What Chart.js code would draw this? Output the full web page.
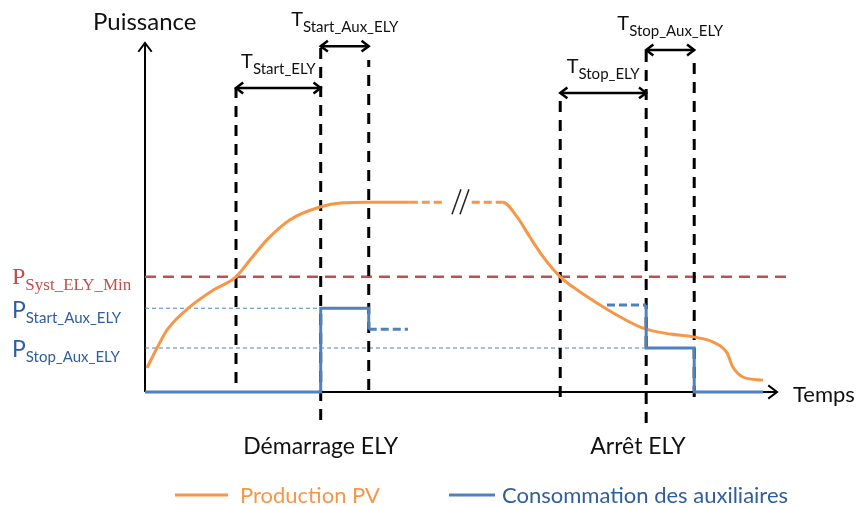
<!DOCTYPE html>
<html>
<head>
<meta charset="utf-8">
<script src="https://cdn.jsdelivr.net/npm/chart.js@4/dist/chart.umd.min.js"></script>
<style>
  html, body { margin: 0; padding: 0; background: #fff; }
  #wrap { width: 860px; height: 506px; position: relative; }
</style>
</head>
<body>
<div id="wrap"><canvas id="c"></canvas></div>
<script>
/* Schéma démarrage / arrêt ELY — temps et puissance en unités arbitraires (0-100) */
const prodT = [0.3, 1.9, 3.5, 7.1, 10.8, 14.4, 16.6, 19.3, 22.9, 27.7, 31.3, 35.1, 41.9, 47.4, 49.5, 51.7, 56.6, 58.9, 60.9, 63.0, 65.7, 68.4, 71.5, 75.2, 78.8, 83.1, 86.7, 89.9, 92.1, 93.0, 94.6, 97.8];
const prodP = [6.9, 12.6, 17.8, 24.4, 29.2, 33.0, 37.8, 43.6, 49.3, 53.0, 54.2, 54.4, 54.4, 54.4, null, 54.4, 54.4, 50.1, 44.4, 38.7, 33.0, 29.2, 25.5, 21.5, 18.3, 16.6, 15.8, 14.3, 11.2, 7.2, 4.3, 3.4];
const prodDashFrom = 41.9, prodDashTo = 56.6;   // raccord en pointillés autour de la coupure //
const breakAt = 50.0;

const auxT = [0, 27.8, 27.8, 35.4, 35.4, 41.6, 57.0, 73.1, 79.3, 79.3, 86.9, 86.9, 97.8];
const auxP = [0, 0, 24, 24, 18, 18, null, 24.9, 24.9, 12.6, 12.6, 0, 0];
const auxDashed = [[35.4, 41.6], [73.1, 79.3]];

const pSystMin = 33;
const pStartAux = 24;
const pStopAux = 12.6;
const levelEnd = [102.4, 27.8, 79.3];   // fin des traits horizontaux (Syst, Start, Stop)

const markT = [14.4, 27.8, 35.4, 65.7, 79.3, 86.9];
const markTop = [87.1, 100, 95.1, 85.7, 98, 94.3];
const markBottom = [2.6, -8, 0.6, -1.4, -8.9, -1.4];

const spanNames = ['Start_ELY', 'Start_Aux_ELY', 'Stop_ELY', 'Stop_Aux_ELY'];
const spanFrom = [14.4, 27.8, 65.7, 79.3];
const spanTo = [27.8, 35.4, 79.3, 86.9];
const spanAt = [87.1, 99.1, 85.7, 98];

const phaseLabels = ['Démarrage ELY', 'Arrêt ELY'];
const phaseAt = [27.8, 78.0];

const ORANGE = '#F79646', BLUE = '#4F81BD', RED = '#C0504D', TXTBLUE = '#2F5E9E';
const SANS = 'Lato, "Open Sans", sans-serif';

const pts = (xs, ys) => xs.map((x, i) => ({ x, y: ys[i] }));

const datasets = [
  {
    label: 'Consommation des auxiliaires',
    data: pts(auxT, auxP),
    borderColor: BLUE, borderWidth: 3, spanGaps: false, clip: false,
    segment: {
      borderDash: c => {
        if (c.p0.parsed.y !== c.p1.parsed.y) return undefined;
        const hit = auxDashed.some(r => c.p0.parsed.x >= r[0] && c.p1.parsed.x <= r[1]);
        return hit ? [8, 4] : undefined;
      }
    },
  },
  {
    label: 'Production PV',
    data: pts(prodT, prodP),
    borderColor: ORANGE, borderWidth: 3, spanGaps: false, clip: false,
    cubicInterpolationMode: 'monotone',
    segment: {
      borderDash: c => (c.p0.parsed.x >= prodDashFrom && c.p1.parsed.x <= prodDashTo) ? [8, 4] : undefined
    },
  },
];

markT.forEach((t, i) => datasets.push({
  label: 'm' + i,
  data: [{ x: t, y: markBottom[i] }, { x: t, y: markTop[i] }],
  borderColor: '#000', borderWidth: 3, borderDash: [11, 8], clip: false,
}));

spanNames.forEach((n, i) => datasets.push({
  label: 'T_' + n,
  data: [{ x: spanFrom[i], y: spanAt[i] }, { x: spanTo[i], y: spanAt[i] }],
  borderColor: '#000', borderWidth: 2.5, clip: false,
}));

datasets.push(
  { label: 'P_Syst_ELY_Min', data: [{ x: 0, y: pSystMin }, { x: levelEnd[0], y: pSystMin }],
    borderColor: RED, borderWidth: 2.5, borderDash: [11, 7], clip: false },
  { label: 'P_Start_Aux_ELY', data: [{ x: 0, y: pStartAux }, { x: levelEnd[1], y: pStartAux }],
    borderColor: BLUE, borderWidth: 1, borderDash: [4, 3], clip: false },
  { label: 'P_Stop_Aux_ELY', data: [{ x: 0, y: pStopAux }, { x: levelEnd[2], y: pStopAux }],
    borderColor: BLUE, borderWidth: 1, borderDash: [4, 3], clip: false },
);

function head(ctx, x, y, ang, len) {
  ctx.beginPath();
  ctx.moveTo(x + len * Math.cos(ang + Math.PI - 0.65), y + len * Math.sin(ang + Math.PI - 0.65));
  ctx.lineTo(x, y);
  ctx.lineTo(x + len * Math.cos(ang + Math.PI + 0.65), y + len * Math.sin(ang + Math.PI + 0.65));
  ctx.stroke();
}

function subText(ctx, x, y, main, sub, mainFont, subFont, dy, center) {
  ctx.font = mainFont; const w1 = ctx.measureText(main).width;
  ctx.font = subFont; const w2 = ctx.measureText(sub).width;
  const x0 = center ? x - (w1 + w2) / 2 : x;
  ctx.textAlign = 'left';
  ctx.font = mainFont; ctx.fillText(main, x0, y);
  ctx.font = subFont; ctx.fillText(sub, x0 + w1, y + dy);
}

const schemaPlugin = {
  id: 'schema',
  beforeDatasetsDraw(chart) {
    const { ctx, scales: { x, y } } = chart;
    const x0 = x.getPixelForValue(0), y0 = y.getPixelForValue(0);
    const xEnd = x.getPixelForValue(100), yEnd = y.getPixelForValue(100);
    ctx.save();
    ctx.strokeStyle = '#000'; ctx.lineWidth = 2; ctx.lineJoin = 'miter';
    ctx.beginPath();
    ctx.moveTo(x0, y0); ctx.lineTo(x0, yEnd);
    ctx.moveTo(x0, y0); ctx.lineTo(xEnd, y0);
    ctx.stroke();
    head(ctx, x0, yEnd, -Math.PI / 2, 11);
    head(ctx, xEnd, y0, 0, 11);
    ctx.restore();
  },
  afterDatasetsDraw(chart) {
    const { ctx, scales: { x, y } } = chart;
    ctx.save();
    ctx.textBaseline = 'alphabetic';

    // flèches des durées + étiquettes T
    ctx.strokeStyle = '#000'; ctx.lineWidth = 2.5; ctx.lineJoin = 'miter';
    ctx.fillStyle = '#111';
    spanNames.forEach((n, i) => {
      const xa = x.getPixelForValue(spanFrom[i]), xb = x.getPixelForValue(spanTo[i]);
      const ya = y.getPixelForValue(spanAt[i]);
      head(ctx, xa, ya, Math.PI, 9);
      head(ctx, xb, ya, 0, 9);
      subText(ctx, (xa + xb) / 2, ya - 20, 'T', n, '20px ' + SANS, '15px ' + SANS, 6, true);
    });

    // coupure // sur la production
    const bx = x.getPixelForValue(breakAt), by = y.getPixelForValue(54.4);
    ctx.strokeStyle = '#222'; ctx.lineWidth = 1.5;
    ctx.beginPath();
    ctx.moveTo(bx - 9, by + 12); ctx.lineTo(bx, by - 13);
    ctx.moveTo(bx - 1, by + 12); ctx.lineTo(bx + 8, by - 13);
    ctx.stroke();

    // titres des axes
    ctx.fillStyle = '#111';
    ctx.font = '24px ' + SANS; ctx.textAlign = 'left';
    ctx.fillText('Puissance', 93, 30);
    ctx.font = '22px ' + SANS;
    ctx.fillText('Temps', x.getPixelForValue(100) + 16, y.getPixelForValue(0) + 10);

    // phases
    ctx.font = '23px ' + SANS; ctx.textAlign = 'center';
    phaseLabels.forEach((t, i) => ctx.fillText(t, x.getPixelForValue(phaseAt[i]), 454));

    // niveaux de puissance à gauche
    ctx.fillStyle = RED;
    subText(ctx, 12, y.getPixelForValue(pSystMin) + 7, 'P', 'Syst_ELY_Min',
      '24px "Liberation Serif", "Times New Roman", serif', '17px "Liberation Serif", "Times New Roman", serif', 6, false);
    ctx.fillStyle = TXTBLUE;
    subText(ctx, 12, y.getPixelForValue(pStartAux) + 10, 'P', 'Start_Aux_ELY', '23px ' + SANS, '15px ' + SANS, 5, false);
    subText(ctx, 12, y.getPixelForValue(pStopAux) + 9, 'P', 'Stop_Aux_ELY', '23px ' + SANS, '15px ' + SANS, 5, false);

    // légende
    const items = [
      { ds: chart.data.datasets[1], x1: 175, x2: 228, tx: 240, color: ORANGE },
      { ds: chart.data.datasets[0], x1: 449, x2: 495, tx: 502, color: TXTBLUE },
    ];
    ctx.font = '22px ' + SANS; ctx.textAlign = 'left';
    items.forEach(it => {
      ctx.strokeStyle = it.ds.borderColor; ctx.lineWidth = 3; ctx.setLineDash([]);
      ctx.beginPath(); ctx.moveTo(it.x1, 495); ctx.lineTo(it.x2, 495); ctx.stroke();
      ctx.fillStyle = it.color;
      ctx.fillText(it.ds.label, it.tx, 503);
    });
    ctx.restore();
  },
};

new Chart(document.getElementById('c'), {
  type: 'line',
  data: { datasets },
  options: {
    responsive: true, maintainAspectRatio: false, animation: false,
    layout: { padding: { left: 145, right: 83, top: 43, bottom: 114 } },
    scales: {
      x: { type: 'linear', min: 0, max: 100, display: false },
      y: { type: 'linear', min: 0, max: 100, display: false },
    },
    elements: { point: { radius: 0, hoverRadius: 0 }, line: { borderCapStyle: 'butt' } },
    plugins: { legend: { display: false }, tooltip: { enabled: false } },
    events: [],
  },
  plugins: [schemaPlugin],
});
</script>
</body>
</html>
